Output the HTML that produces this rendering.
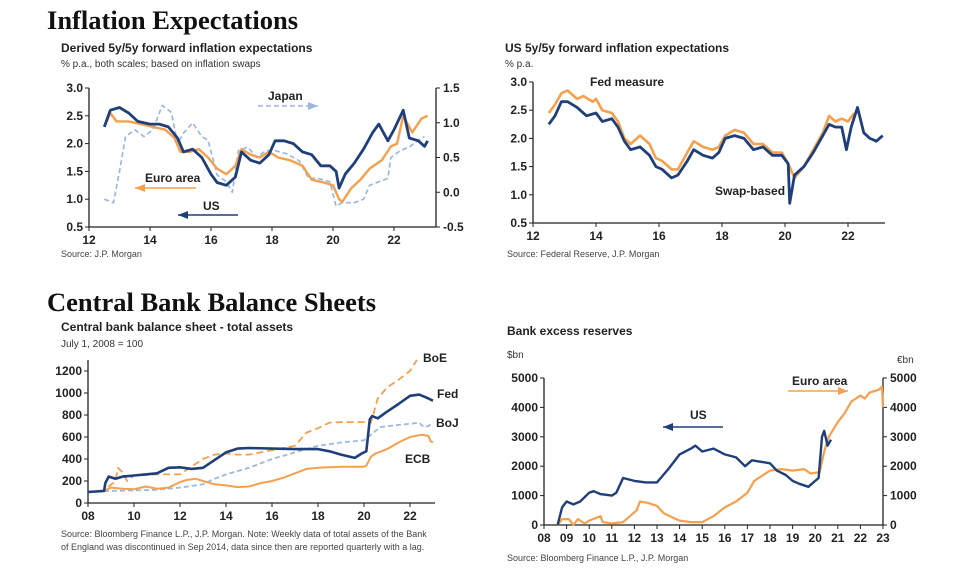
<!DOCTYPE html>
<html><head><meta charset="utf-8"><style>
body{margin:0;background:#fff;width:969px;height:571px;overflow:hidden}
svg{font-family:"Liberation Sans",Arial,sans-serif}
.h{font-family:"Liberation Serif",serif;font-weight:bold;font-size:26.5px;fill:#111}
.t{font-weight:bold;font-size:12px;fill:#222}
.s{font-size:10px;fill:#333}
.src{font-size:9px;fill:#444}
.tk{font-weight:bold;font-size:12px;fill:#222}
.lb{font-weight:bold;font-size:12px;fill:#222}
</style></head><body>
<svg id="svg" width="969" height="571">
<text class="h" x="47" y="29">Inflation Expectations</text>
<text class="h" x="47" y="311">Central Bank Balance Sheets</text>
<text class="t" x="61" y="52">Derived 5y/5y forward inflation expectations</text>
<text class="s" x="61" y="67">% p.a., both scales; based on inflation swaps</text>
<text class="src" x="61" y="257">Source: J.P. Morgan</text>
<text class="t" x="505" y="52">US 5y/5y forward inflation expectations</text>
<text class="s" x="505" y="67">% p.a.</text>
<text class="src" x="507" y="257">Source: Federal Reserve, J.P. Morgan</text>
<text class="t" x="61" y="331">Central bank balance sheet - total assets</text>
<text class="s" x="61" y="347">July 1, 2008 = 100</text>
<text class="src" x="61" y="537">Source: Bloomberg Finance L.P., J.P. Morgan. Note: Weekly data of total assets of the Bank</text>
<text class="src" x="61" y="550">of England was discontinued in Sep 2014, data since then are reported quarterly with a lag.</text>
<text class="t" x="507" y="335">Bank excess reserves</text>
<text class="s" x="507" y="358">$bn</text>
<text class="s" x="897" y="363">€bn</text>
<text class="src" x="507" y="561">Source: Bloomberg Finance L.P., J.P. Morgan</text>
<g id="g"></g>
</svg>
<script>
// Chart 1
const c1Years=["12","14","16","18","20","22"];
const c1LeftTicks=["0.5","1.0","1.5","2.0","2.5","3.0"];
const c1RightTicks=["-0.5","0.0","0.5","1.0","1.5"];
const c1US=[[12.5,2.3],[12.7,2.6],[13.0,2.65],[13.3,2.55],[13.6,2.4],[14.0,2.35],[14.3,2.35],[14.6,2.3],[14.9,2.1],[15.1,1.85],[15.4,1.9],[15.7,1.75],[16.0,1.45],[16.2,1.3],[16.5,1.25],[16.8,1.4],[17.0,1.85],[17.3,1.7],[17.6,1.65],[17.9,1.8],[18.1,2.05],[18.4,2.05],[18.7,2.0],[19.0,1.85],[19.3,1.8],[19.6,1.6],[19.9,1.6],[20.1,1.5],[20.2,1.2],[20.4,1.45],[20.7,1.65],[21.0,1.9],[21.3,2.2],[21.5,2.35],[21.8,2.05],[22.0,2.25],[22.3,2.6],[22.5,2.1],[22.8,2.05],[23.0,1.95],[23.1,2.05]];
const c1EA=[[12.5,2.3],[12.7,2.55],[12.9,2.4],[13.3,2.4],[13.7,2.35],[14.1,2.3],[14.5,2.25],[14.8,2.1],[15.0,1.85],[15.3,1.85],[15.6,1.9],[15.9,1.75],[16.2,1.55],[16.5,1.45],[16.8,1.6],[17.0,1.9],[17.3,1.8],[17.6,1.75],[17.9,1.85],[18.2,1.75],[18.6,1.7],[19.0,1.6],[19.3,1.35],[19.7,1.3],[20.0,1.25],[20.2,1.0],[20.3,0.95],[20.6,1.2],[20.9,1.35],[21.2,1.55],[21.6,1.7],[21.9,1.95],[22.1,2.0],[22.3,2.5],[22.6,2.2],[22.9,2.45],[23.1,2.5]];
const c1JP=[[12.5,-0.1],[12.8,-0.15],[13.0,0.3],[13.2,0.8],[13.5,0.9],[13.8,0.8],[14.1,0.9],[14.4,1.25],[14.7,1.15],[14.9,0.7],[15.1,0.85],[15.4,1.0],[15.7,0.8],[15.9,0.75],[16.2,0.25],[16.5,0.15],[16.7,0.0],[16.9,0.6],[17.2,0.65],[17.5,0.5],[17.8,0.6],[18.1,0.6],[18.5,0.55],[18.9,0.45],[19.2,0.2],[19.5,0.2],[19.9,0.15],[20.1,-0.2],[20.3,-0.15],[20.7,-0.15],[21.0,-0.1],[21.2,0.1],[21.5,0.15],[21.8,0.2],[21.9,0.5],[22.2,0.6],[22.5,0.65],[22.8,0.75],[23.0,0.8]];
// Chart 2
const c2Years=["12","14","16","18","20","22"];
const c2Ticks=["0.5","1.0","1.5","2.0","2.5","3.0"];
const c2Swap=[[12.5,2.25],[12.7,2.4],[12.9,2.65],[13.1,2.65],[13.4,2.55],[13.7,2.4],[14.0,2.45],[14.2,2.3],[14.5,2.35],[14.7,2.2],[14.9,1.95],[15.1,1.8],[15.4,1.85],[15.7,1.7],[15.9,1.5],[16.1,1.45],[16.4,1.3],[16.6,1.35],[16.9,1.6],[17.1,1.8],[17.4,1.7],[17.7,1.65],[17.9,1.75],[18.1,2.0],[18.4,2.05],[18.7,2.0],[19.0,1.8],[19.3,1.85],[19.6,1.7],[19.9,1.7],[20.1,1.55],[20.15,0.85],[20.3,1.35],[20.6,1.5],[20.9,1.75],[21.2,2.05],[21.4,2.25],[21.6,2.2],[21.8,2.2],[21.95,1.8],[22.1,2.2],[22.3,2.55],[22.5,2.1],[22.7,2.0],[22.9,1.95],[23.0,2.0],[23.1,2.05]];
const c2Fed=[[12.5,2.45],[12.7,2.6],[12.9,2.8],[13.1,2.85],[13.4,2.7],[13.6,2.75],[13.9,2.65],[14.0,2.7],[14.2,2.5],[14.5,2.45],[14.7,2.3],[14.9,2.0],[15.1,1.9],[15.4,2.05],[15.7,1.9],[15.9,1.65],[16.1,1.6],[16.4,1.45],[16.6,1.45],[16.9,1.75],[17.1,1.95],[17.4,1.85],[17.7,1.8],[17.9,1.85],[18.1,2.05],[18.4,2.15],[18.7,2.1],[19.0,1.9],[19.3,1.9],[19.6,1.75],[19.9,1.75],[20.1,1.55],[20.3,1.3],[20.6,1.5],[20.9,1.8],[21.2,2.1],[21.4,2.4],[21.6,2.3],[21.8,2.35],[22.0,2.3],[22.2,2.45]];
// Chart 3
const c3Years=["08","10","12","14","16","18","20","22"];
const c3Ticks=["0","200","400","600","800","1000","1200"];
const c3Fed=[[8.0,100],[8.7,110],[8.75,180],[8.9,240],[9.2,220],[9.5,240],[10,250],[10.5,260],[11.0,270],[11.5,320],[12,325],[12.5,310],[13.0,320],[13.5,390],[14,460],[14.5,495],[15,500],[16,495],[17,490],[18,490],[18.5,470],[19,440],[19.6,410],[19.9,450],[20.1,470],[20.25,760],[20.35,790],[20.6,770],[21,830],[21.5,900],[22,975],[22.4,985],[22.7,960],[23,930]];
const c3BoE=[[8,100],[8.7,110],[8.9,150],[9.2,200],[9.3,320],[9.5,280],[9.7,200],[10,250],[11,260],[12,260],[12.5,330],[13,400],[13.5,440],[14,450],[14.5,440],[15,440],[16,480],[17,520],[17.5,640],[18,680],[18.5,730],[19,735],[20,735],[20.3,730],[20.6,950],[21,1050],[21.5,1120],[22,1200],[22.3,1300]];
const c3BoJ=[[8,100],[9,110],[10,115],[11,120],[12,140],[13,170],[13.5,220],[14,260],[15,320],[16,400],[17,460],[18,520],[19,550],[20,570],[20.3,620],[20.7,690],[21.5,710],[22,720],[22.4,730],[22.6,690],[22.8,700],[23,730]];
const c3ECB=[[8,100],[8.7,110],[9,140],[9.5,130],[10,125],[10.5,150],[11,130],[11.5,140],[12,190],[12.3,210],[12.7,220],[13,200],[13.5,170],[14,160],[14.5,145],[15,150],[15.5,180],[16,200],[16.5,230],[17,270],[17.5,310],[18,320],[19,330],[20,330],[20.1,340],[20.3,420],[20.5,450],[21,490],[21.5,550],[22,600],[22.5,620],[22.8,610],[22.9,560],[23,550]];
// Chart 4
const c4Years=["08","09","10","11","12","13","14","15","16","17","18","19","20","21","22","23"];
const c4Ticks=["0","1000","2000","3000","4000","5000"];
const c4US=[[8.6,0],[8.8,600],[9,800],[9.3,700],[9.6,800],[10,1100],[10.2,1150],[10.5,1050],[11,1000],[11.2,1100],[11.5,1600],[12,1500],[12.5,1450],[13,1450],[13.5,1900],[14,2400],[14.5,2600],[14.7,2700],[15,2500],[15.5,2600],[16,2400],[16.5,2300],[16.9,2000],[17.2,2200],[17.6,2150],[18,2100],[18.3,1850],[18.7,1700],[19,1500],[19.3,1400],[19.7,1300],[20,1500],[20.15,1600],[20.3,3000],[20.4,3200],[20.55,2700],[20.7,2900]];
const c4EA=[[8.6,0],[8.8,200],[9.1,200],[9.3,0],[9.5,200],[9.8,50],[10,150],[10.5,300],[10.6,100],[11,50],[11.5,100],[11.8,300],[12.1,500],[12.25,800],[12.6,750],[13,650],[13.3,400],[13.7,250],[14,150],[14.5,100],[15,100],[15.5,300],[16,600],[16.5,800],[17,1100],[17.3,1500],[17.7,1700],[18,1850],[18.5,1900],[19,1850],[19.5,1900],[19.8,1750],[20.2,1800],[20.4,2500],[20.6,3000],[21,3500],[21.3,3800],[21.6,4200],[22,4400],[22.2,4300],[22.4,4500],[22.8,4600],[22.95,4700],[23,4000]];

const NS="http://www.w3.org/2000/svg",G=document.getElementById('g');
const NAVY="#1f3f7a",OR="#f5a04c",LB="#9db8de";
function mk(t,a,p){const e=document.createElementNS(NS,t);for(const k in a)e.setAttribute(k,a[k]);(p||G).appendChild(e);return e;}
function lin(d0,d1,r0,r1){return v=>r0+(v-d0)/(d1-d0)*(r1-r0);}
function line(data,sx,sy,col,w,dash,name){
  const d=data.map((p,i)=>(i?'L':'M')+sx(p[0]).toFixed(1)+' '+sy(p[1]).toFixed(1)).join('');
  const e=mk('path',{d:d,fill:'none',stroke:col,'stroke-width':w,'stroke-linejoin':'round'});
  if(dash)e.setAttribute('stroke-dasharray',dash);
  
  
}
function axes(o){
  const ax=mk('path',{d:`M${o.x0} ${o.yT}V${o.yB}H${o.x1}`,stroke:'#222','stroke-width':1.3,fill:'none'});
  
  
  o.yt.forEach(t=>{const y=o.sy(+t);mk('line',{x1:o.x0-4,x2:o.x0,y1:y,y2:y,stroke:'#222'});
    const e=mk('text',{x:o.x0-6,y:y+4,'text-anchor':'end',class:'tk'});e.textContent=t;
    
    });
  o.xt.forEach(t=>{const x=o.sx(+t);mk('line',{x1:x,x2:x,y1:o.yB,y2:o.yB+4,stroke:'#222'});
    const e=mk('text',{x:x,y:o.yB+17,'text-anchor':'middle',class:'tk'});e.textContent=t;
    
    });
  if(o.rt){mk('line',{x1:o.x1,x2:o.x1,y1:o.yT,y2:o.yB,stroke:'#222','stroke-width':1.3});
    o.rt.forEach(t=>{const y=o.sr(+t);mk('line',{x1:o.x1,x2:o.x1+4,y1:y,y2:y,stroke:'#222'});
      const e=mk('text',{x:o.x1+7,y:y+4,class:'tk'});e.textContent=t;
      
      });}
}
function lbl(x,y,t,n,col){const e=mk('text',{x:x,y:y,class:'lb',fill:col||'#222'});e.textContent=t;
  
  }
function arrow(x1,x2,y,col,n,dash){const e=mk('line',{x1:x1,x2:x2,y1:y,y2:y,stroke:col,'stroke-width':1.5});
  if(dash)e.setAttribute('stroke-dasharray',dash);
  const dir=x2>x1?1:-1;mk('path',{d:`M${x2} ${y}l${-dir*10} -4v8z`,fill:col});
  
  }

{const sx=lin(12,14,89,150),sy=lin(0.5,3,227,88),sr=lin(-0.5,1.5,227,88);
 axes({n:'chart1',x0:89,x1:436,yT:88,yB:227,sx,sy,sr,xt:c1Years,yt:c1LeftTicks,rt:c1RightTicks});
 line(c1JP,sx,sr,LB,1.7,'5 3','japan-line');
 line(c1EA,sx,sy,OR,2.4,null,'euro-area-line');
 line(c1US,sx,sy,NAVY,2.8,null,'us-line');
 lbl(268,100,'Japan','japan-label','#aab');arrow(258,318,106,LB,'japan-arrow','5 3');
 lbl(145,182,'Euro area','euro-area-label');arrow(196,135,188,OR,'euro-area-arrow');
 lbl(203,210,'US','us-label');arrow(238,178,215,NAVY,'us-arrow');}
{const sx=lin(12,14,533,596),sy=lin(0.5,3,223,82);
 axes({n:'chart2',x0:533,x1:885,yT:82,yB:223,sx,sy,xt:c2Years,yt:c2Ticks});
 line(c2Fed,sx,sy,OR,2.6,null,'fed-measure-line');
 line(c2Swap,sx,sy,NAVY,2.8,null,'swap-based-line');
 lbl(590,86,'Fed measure','fed-measure-label');lbl(715,195,'Swap-based','swap-based-label');}
{const sx=lin(8,10,88,134),sy=lin(0,1200,503,371);
 axes({n:'chart3',x0:88,x1:435,yT:360,yB:503,sx,sy,xt:c3Years,yt:c3Ticks});
 line(c3BoJ,sx,sy,LB,1.8,'5 3','boj-line');
 line(c3ECB,sx,sy,OR,2,null,'ecb-line');
 line(c3BoE,sx,sy,OR,1.8,'7 4','boe-line');
 line(c3Fed,sx,sy,NAVY,2.6,null,'fed-line');
 lbl(423,362,'BoE','boe-label');lbl(437,398,'Fed','fed-label');lbl(436,427,'BoJ','boj-label');lbl(405,463,'ECB','ecb-label');}
{const sx=lin(8,23,544,883),sy=lin(0,5000,525,378);
 axes({n:'chart4',x0:544,x1:883,yT:378,yB:525,sx,sy,sr:sy,xt:c4Years,yt:c4Ticks,rt:c4Ticks});
 line(c4EA,sx,sy,OR,2.2,null,'euro-area-reserves-line');
 line(c4US,sx,sy,NAVY,2.4,null,'us-reserves-line');
 lbl(792,385,'Euro area','euro-area-reserves-label');arrow(788,848,391,OR,'euro-area-reserves-arrow');
 lbl(690,419,'US','us-reserves-label');arrow(723,663,427,NAVY,'us-reserves-arrow');}
</script>
</body></html>
